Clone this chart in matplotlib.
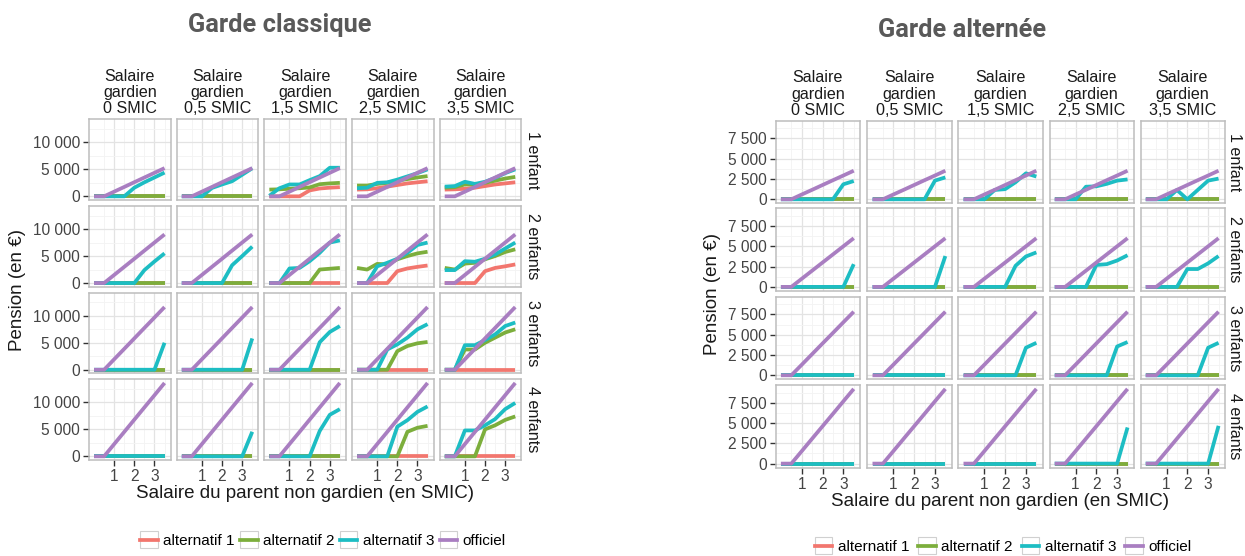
import matplotlib
matplotlib.use("Agg")
import matplotlib.pyplot as plt
from matplotlib.lines import Line2D
from matplotlib.patches import Rectangle
from matplotlib.legend_handler import HandlerLine2D

W, H = 1245, 556
plt.rcParams['font.family'] = ['Liberation Sans', 'DejaVu Sans']

# salaire du parent non gardien (en SMIC)
salaire = [0, 0.5, 1, 1.5, 2, 2.5, 3, 3.5]
gardien_labels = ['Salaire\ngardien\n0 SMIC', 'Salaire\ngardien\n0,5 SMIC', 'Salaire\ngardien\n1,5 SMIC',
                  'Salaire\ngardien\n2,5 SMIC', 'Salaire\ngardien\n3,5 SMIC']
enfants_labels = ['1 enfant', '2 enfants', '3 enfants', '4 enfants']
series_names = ['alternatif 1', 'alternatif 2', 'alternatif 3', 'officiel']
series_colors = ['#F2766E', '#7CAE3C', '#1DBDC3', '#A97EC1']

Z = [0, 0, 0, 0, 0, 0, 0, 0]

# ---- garde classique : [enfants][salaire gardien] -> 8 valeurs
classique_alt1 = [
    [Z, Z, [0, 0, 0, 0, 1100, 1450, 1600, 1700],
     [1250, 1300, 1500, 1800, 2100, 2400, 2600, 2800],
     [1250, 1300, 1400, 1600, 1900, 2200, 2400, 2600]],
    [Z, Z, Z, [0, 0, 0, 0, 2200, 2700, 3000, 3250],
     [0, 0, 0, 0, 2200, 2800, 3100, 3450]],
    [Z, Z, Z, Z, Z],
    [Z, Z, Z, Z, Z],
]
classique_alt2 = [
    [Z, Z, [1250, 1300, 1400, 1500, 1650, 2250, 2400, 2500],
     [2000, 2000, 2300, 2500, 2900, 3200, 3500, 3750],
     [1600, 1700, 2200, 2200, 2500, 2900, 3300, 3600]],
    [Z, Z, [0, 0, 0, 0, 0, 2500, 2650, 2800],
     [2800, 2500, 3550, 3450, 4400, 5000, 5500, 5800],
     [2800, 2500, 3600, 3750, 4400, 5000, 5750, 6250]],
    [Z, Z, Z, [0, 0, 0, 0, 3450, 4400, 4900, 5150],
     [0, 0, 3750, 3750, 5000, 5950, 6900, 7500]],
    [Z, Z, Z, [0, 0, 0, 0, 0, 4550, 5300, 5650],
     [0, 0, 0, 0, 5000, 5750, 6750, 7400]],
]
classique_alt3 = [
    [[0, 0, 0, 0, 1600, 2600, 3500, 4400],
     [0, 0, 0, 1550, 2200, 2800, 4000, 5200],
     [100, 1500, 2200, 2200, 3000, 3750, 5300, 5300],
     [1500, 1600, 2500, 2600, 3100, 3700, 4300, 5000],
     [1800, 1900, 2700, 2300, 2700, 3400, 4300, 5000]],
    [[0, 0, 0, 0, 0, 2400, 4000, 5500],
     [0, 0, 0, 0, 0, 3300, 5000, 6750],
     [0, 0, 2700, 2800, 4050, 5600, 7500, 7900],
     [0, 0, 3100, 3750, 4500, 5600, 7050, 7500],
     [2400, 2400, 4050, 3950, 4500, 5300, 6400, 7500]],
    [[0, 0, 0, 0, 0, 0, 0, 5000],
     [0, 0, 0, 0, 0, 0, 0, 5800],
     [0, 0, 0, 0, 0, 5100, 7000, 8100],
     [0, 0, 0, 3750, 4700, 5950, 7500, 8450],
     [0, 0, 4550, 4550, 5500, 6550, 8100, 8750]],
    [Z,
     [0, 0, 0, 0, 0, 0, 0, 4550],
     [0, 0, 0, 0, 0, 4700, 7700, 8750],
     [0, 0, 0, 0, 5500, 6700, 8250, 9250],
     [0, 0, 4800, 4800, 5750, 6900, 8750, 9900]],
]
classique_officiel = [
    [0, 0, 870, 1740, 2620, 3490, 4360, 5230],
    [0, 0, 1500, 3000, 4500, 6010, 7510, 9010],
    [0, 0, 1940, 3870, 5810, 7750, 9680, 11620],
    [0, 0, 2270, 4530, 6800, 9070, 11330, 13600],
]

# ---- garde alternee
alternee_alt1 = [[Z, Z, Z, Z, Z] for _ in range(4)]
alternee_alt2 = [[Z, Z, Z, Z, Z] for _ in range(4)]
alternee_alt3 = [
    [[0, 0, 0, 0, 0, 0, 1850, 2250],
     [0, 0, 0, 0, 0, 0, 2300, 2700],
     [0, 0, 0, 1150, 1250, 2100, 3200, 2800],
     [0, 0, 0, 1550, 1600, 1900, 2300, 2450],
     [0, 0, 0, 1150, 0, 1150, 2300, 2550]],
    [[0, 0, 0, 0, 0, 0, 0, 2800],
     [0, 0, 0, 0, 0, 0, 0, 3800],
     [0, 0, 0, 0, 0, 2600, 3750, 4250],
     [0, 0, 0, 0, 2700, 2800, 3250, 3900],
     [0, 0, 0, 0, 2200, 2200, 2900, 3800]],
    [Z, Z,
     [0, 0, 0, 0, 0, 0, 3400, 4000],
     [0, 0, 0, 0, 0, 0, 3550, 4100],
     [0, 0, 0, 0, 0, 0, 3400, 4000]],
    [Z, Z, Z,
     [0, 0, 0, 0, 0, 0, 0, 4450],
     [0, 0, 0, 0, 0, 0, 0, 4650]],
]
alternee_officiel = [
    [0, 0, 590, 1170, 1760, 2350, 2930, 3520],
    [0, 0, 1000, 2000, 3000, 4000, 5000, 6000],
    [0, 0, 1300, 2610, 3920, 5220, 6530, 7830],
    [0, 0, 1530, 3070, 4600, 6130, 7670, 9200],
]


def fmt(v):
    return '{:,}'.format(int(v)).replace(',', ' ')


def px_axes(fig, left, top, w, h):
    return fig.add_axes([left / W, 1 - (top + h) / H, w / W, h / H])


class BoxedLine(HandlerLine2D):
    # legend key like ggplot: line inside a small light box
    def create_artists(self, legend, orig_handle, xdescent, ydescent, width, height, fontsize, trans):
        arts = super().create_artists(legend, orig_handle, xdescent, ydescent, width, height, fontsize, trans)
        box = Rectangle((-xdescent, -ydescent + height / 2 - width / 2), width, width,
                        facecolor='white', edgecolor='#D0D0D0', lw=0.8, transform=trans)
        return [box] + list(arts)


def draw_grid(fig, alt1, alt2, alt3, off, lefts, tops, pw, ph, ylim, yticks, yminor,
              title, title_xy, strip_right_x, ylab_x, xlab_y, legend_xy, legend_gap):
    for r in range(4):
        for c in range(5):
            ax = px_axes(fig, lefts[c], tops[r], pw, ph)
            for vals, col in zip([alt1[r][c], alt2[r][c], alt3[r][c], off[r]], series_colors):
                ax.plot(salaire, vals, color=col, lw=2.7, solid_capstyle='butt')
            ax.set_xlim(-0.25, 3.8)
            ax.set_ylim(*ylim)
            ax.set_xticks([1, 2, 3])
            ax.set_xticks([0.5, 1.5, 2.5, 3.5], minor=True)
            ax.set_yticks(yticks)
            ax.set_yticks(yminor, minor=True)
            ax.grid(which='major', color='#E3E3E3', lw=0.9)
            ax.grid(which='minor', color='#F3F3F3', lw=0.6)
            ax.set_axisbelow(True)
            for s in ax.spines.values():
                s.set_color('#BDBDBD')
                s.set_linewidth(1.1)
            ax.tick_params(which='minor', length=0)
            ax.tick_params(which='major', length=4.5, width=1, color='#333333',
                           labelsize=11.2, labelcolor='#444444', pad=2)
            ax.set_xticklabels(['1', '2', '3'])
            ax.set_yticklabels([fmt(v) for v in yticks])
            if r < 3:
                ax.tick_params(axis='x', length=0, labelbottom=False)
            if c > 0:
                ax.tick_params(axis='y', length=0, labelleft=False)
            if r == 0:
                fig.text((lefts[c] + pw / 2) / W, 1 - (tops[0] - 3) / H, gardien_labels[c],
                         ha='center', va='bottom', fontsize=11.6, color='#1A1A1A', linespacing=1.1)
            if c == 4:
                fig.text(strip_right_x / W, 1 - (tops[r] + ph / 2) / H, enfants_labels[r],
                         ha='center', va='center', rotation=-90, fontsize=11.6, color='#1A1A1A')
    mid_x = (lefts[0] + lefts[4] + pw) / 2
    mid_y = (tops[0] + tops[3] + ph) / 2
    fig.text(ylab_x / W, 1 - mid_y / H, 'Pension (en €)', rotation=90, ha='center', va='center',
             fontsize=13.5, color='#1A1A1A')
    fig.text(mid_x / W, 1 - xlab_y / H, 'Salaire du parent non gardien (en SMIC)',
             ha='center', va='center', fontsize=13.5, color='#1A1A1A')
    fig.text(title_xy[0] / W, 1 - title_xy[1] / H, title, ha='center', va='center',
             fontsize=18.3, fontweight='bold', color='#595959', family=['Roboto', 'DejaVu Sans'])
    handles = [Line2D([], [], color=col, lw=2.7) for col in series_colors]
    fig.legend(handles, series_names, loc='center',
               bbox_to_anchor=(legend_xy[0] / W, 1 - legend_xy[1] / H),
               ncol=4, frameon=False, fontsize=11, handlelength=1.15, handletextpad=0.35,
               columnspacing=legend_gap, borderaxespad=0,
               handler_map={Line2D: BoxedLine()})


fig = plt.figure(figsize=(W / 100, H / 100), dpi=100)
fig.patch.set_facecolor('white')

draw_grid(fig, classique_alt1, classique_alt2, classique_alt3, classique_officiel,
          lefts=[89, 176.7, 264.3, 352, 439.7], tops=[119.3, 206, 292.7, 379.3], pw=81.6, ph=80.7,
          ylim=(-680, 14280), yticks=[0, 5000, 10000], yminor=[2500, 7500, 12500],
          title='Garde classique', title_xy=(280, 25), strip_right_x=532,
          ylab_x=18, xlab_y=494, legend_xy=(323, 541), legend_gap=0.35)

draw_grid(fig, alternee_alt1, alternee_alt2, alternee_alt3, alternee_officiel,
          lefts=[775.7, 867.3, 958.3, 1049.5, 1140.5], tops=[120.7, 208.3, 296.7, 385], pw=84.3, ph=82.5,
          ylim=(-480, 9680), yticks=[0, 2500, 5000, 7500], yminor=[1250, 3750, 6250, 8750],
          title='Garde alternée', title_xy=(962, 30), strip_right_x=1235,
          ylab_x=713, xlab_y=502, legend_xy=(1003, 547), legend_gap=0.6)

fig.savefig('out.png', dpi=100, facecolor='white')
